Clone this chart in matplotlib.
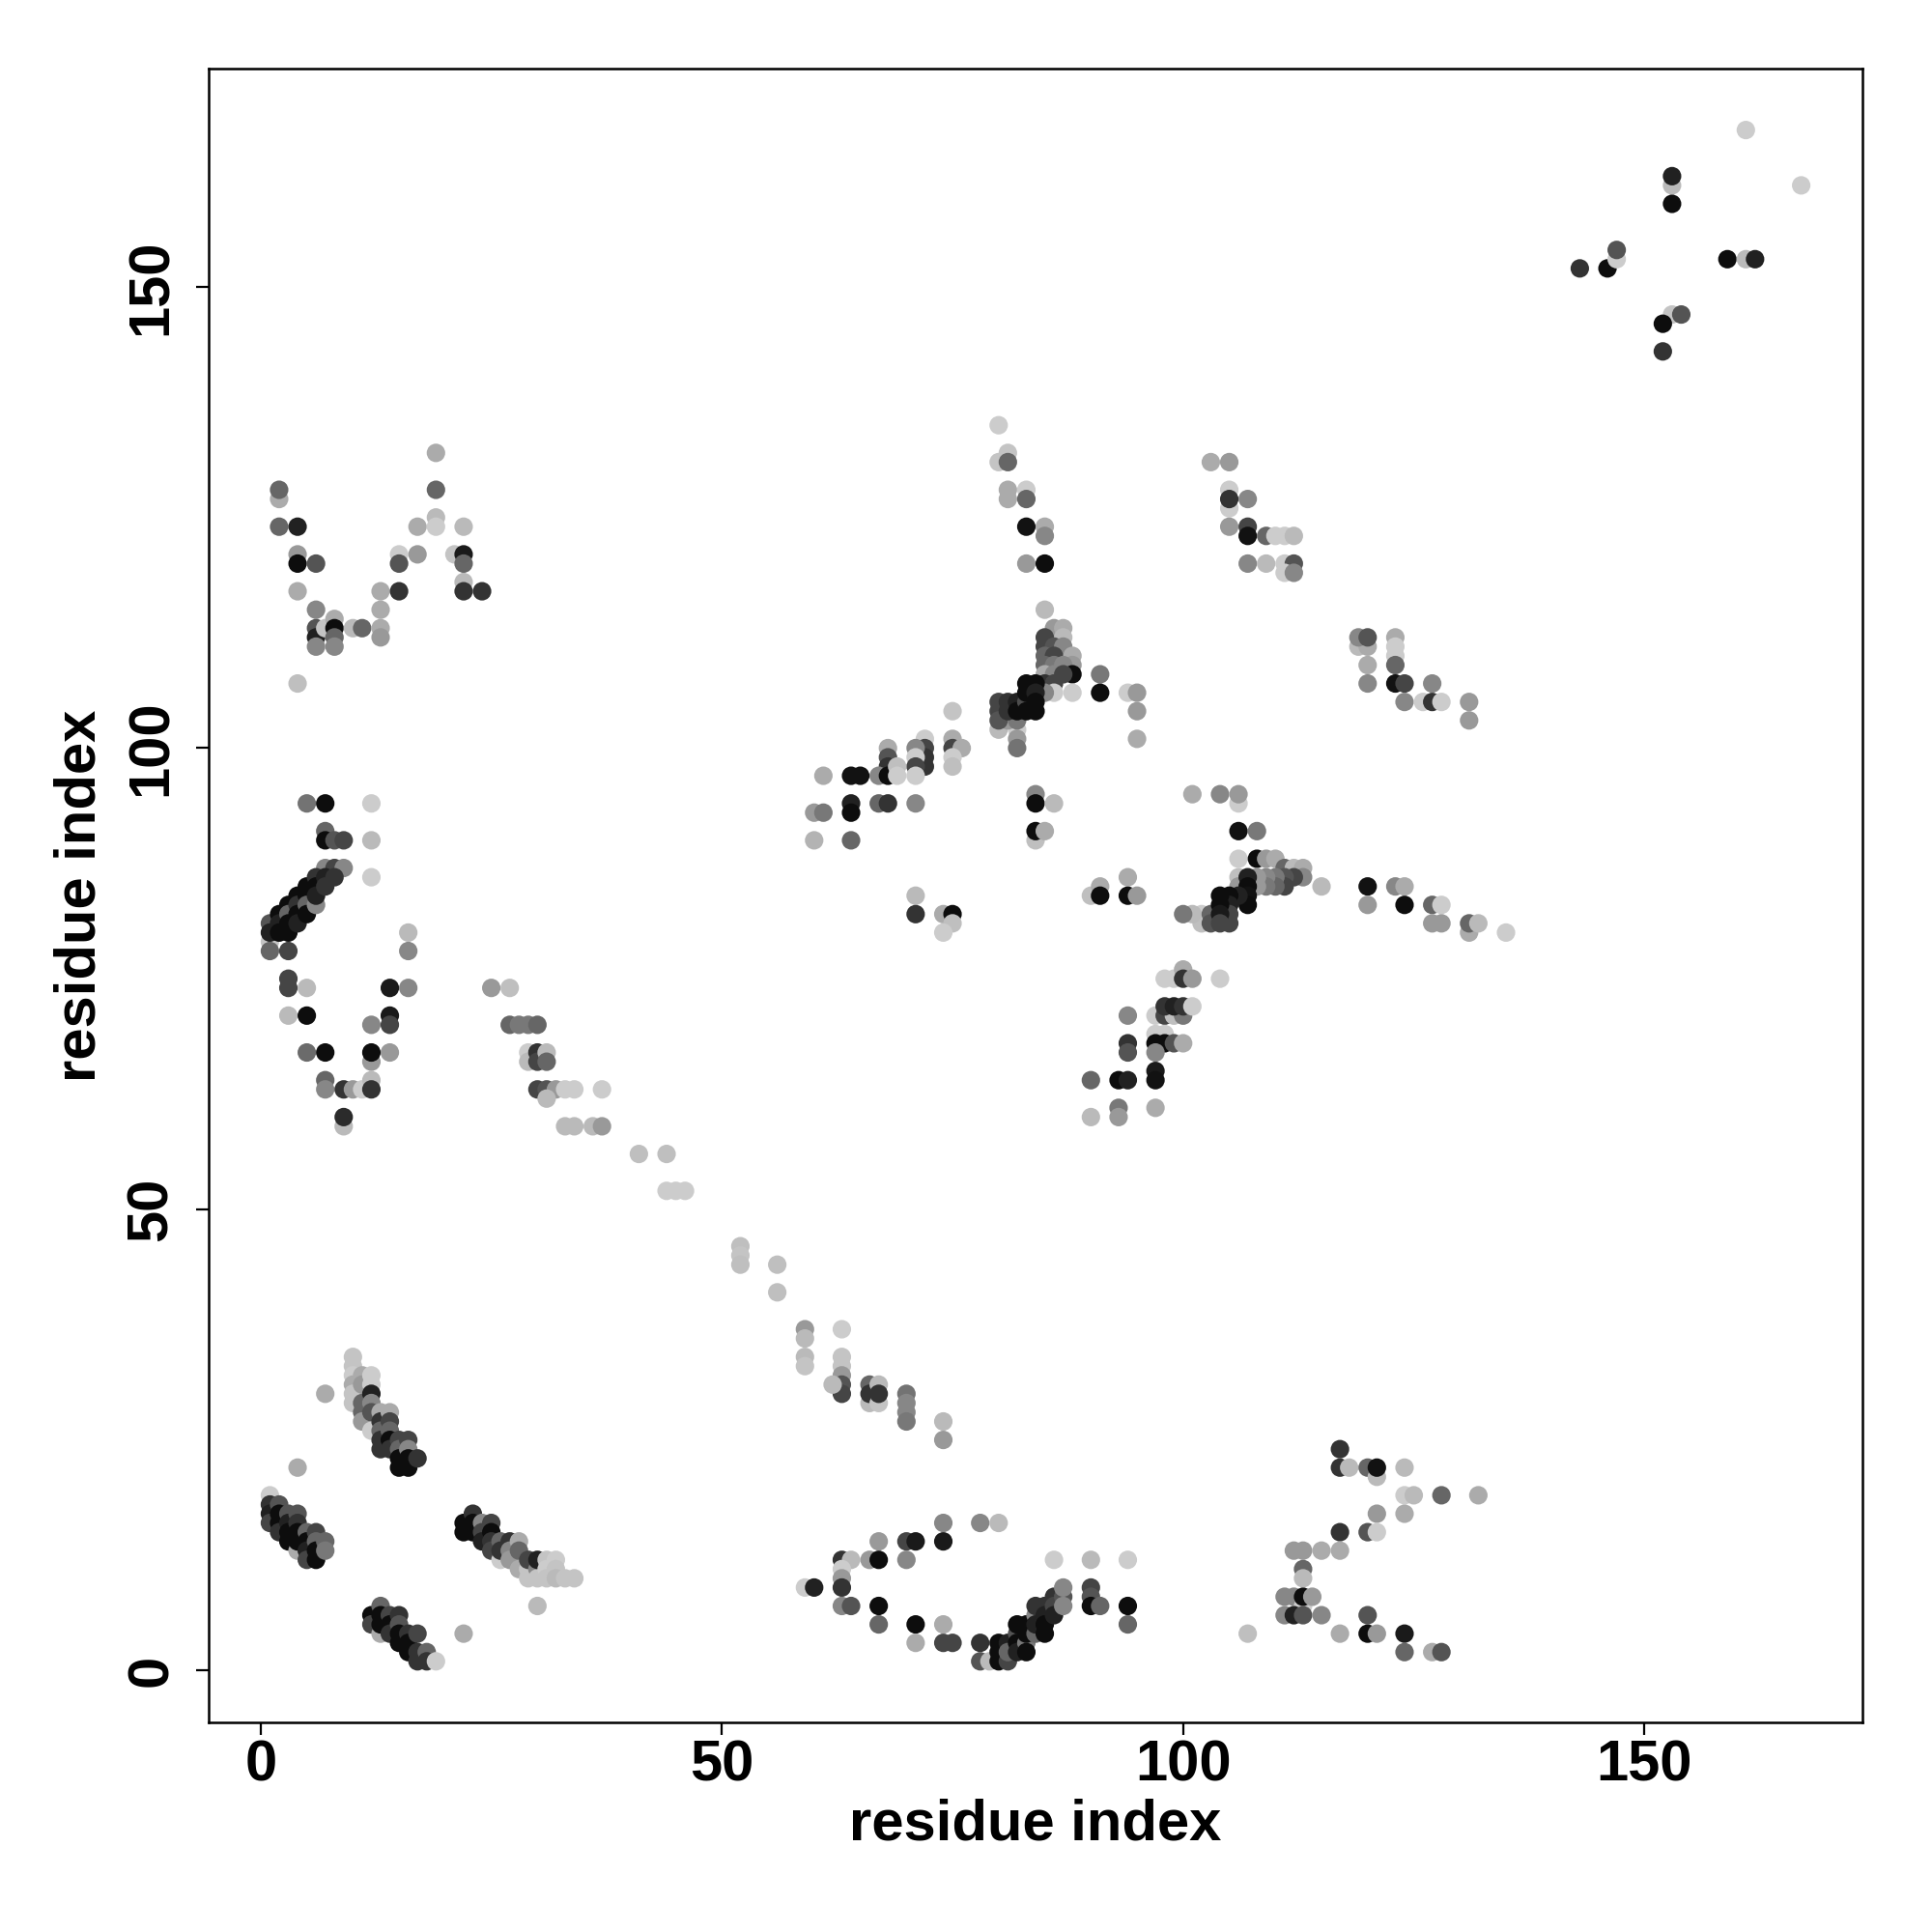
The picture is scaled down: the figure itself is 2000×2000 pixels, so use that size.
import numpy as np
import matplotlib
matplotlib.use("Agg")
import matplotlib.pyplot as plt

# contact points: (residue i, residue j, grey level 0=black .. 0.8=light)
band_low_a = [
    (7, 30, 0.67), (4, 22, 0.67),
    (10, 34, 0.77), (10, 33, 0.77), (10, 32, 0.8), (10, 31, 0.67), (10, 30, 0.77), (10, 29, 0.77),
    (11, 32, 0.67), (11, 31, 0.6), (11, 29, 0.4), (11, 28, 0.4), (11, 27, 0.6),
    (12, 32, 0.8), (12, 31, 0.8), (12, 30, 0.13), (12, 29, 0.53), (12, 28, 0.33), (12, 26, 0.8),
    (13, 28, 0.67), (13, 27, 0.2), (13, 26, 0.4), (13, 25, 0.2), (13, 24, 0.2),
    (14, 28, 0.67), (14, 27, 0.27), (14, 26, 0.4), (14, 25, 0.05), (14, 24, 0.2),
    (15, 25, 0.27), (15, 24, 0.4), (15, 23, 0.05), (15, 22, 0.05),
    (16, 25, 0.27), (16, 24, 0.53), (16, 23, 0.05), (16, 22, 0.05),
    (17, 23, 0.2),
]

band_low_b = [
    (1, 19, 0.8), (1, 18, 0.2), (1, 17, 0.13), (1, 16, 0.27),
    (2, 18, 0.33), (2, 17, 0.05), (2, 16, 0.05), (2, 15, 0.2),
    (3, 17, 0.33), (3, 16, 0.13), (3, 15, 0.05), (3, 14, 0.05),
    (4, 13, 0.67), (4, 17, 0.33), (4, 16, 0.2), (4, 15, 0.05), (4, 14, 0.05),
    (5, 15, 0.4), (5, 14, 0.05), (5, 13, 0.13), (5, 12, 0.27),
    (6, 15, 0.27), (6, 14, 0.4), (6, 13, 0.05), (6, 12, 0.05),
    (7, 14, 0.4), (7, 13, 0.47),
]

band_low_c = [
    (22, 16, 0.05), (22, 15, 0.05),
    (23, 17, 0.2), (23, 16, 0.05), (23, 15, 0.05),
    (24, 16, 0.53), (24, 15, 0.27), (24, 14, 0.13),
    (25, 16, 0.27), (25, 15, 0.05), (25, 14, 0.2), (25, 13, 0.27),
    (26, 12, 0.8), (26, 14, 0.4), (26, 13, 0.2),
    (27, 14, 0.2), (27, 13, 0.53), (27, 12, 0.6),
    (28, 14, 0.67), (28, 13, 0.4), (28, 11, 0.67),
    (29, 11, 0.77), (29, 10, 0.77), (29, 12, 0.27),
    (30, 11, 0.53), (30, 10, 0.77), (30, 12, 0.13),
    (31, 12, 0.77), (31, 11, 0.8), (31, 10, 0.77),
    (32, 12, 0.8), (32, 11, 0.77), (32, 10, 0.73),
    (33, 10, 0.77), (34, 10, 0.77),
    (30, 7, 0.73), (22, 4, 0.67),
]

band_low_d = [
    (12, 6, 0.05), (12, 5, 0.27),
    (13, 4, 0.67), (13, 7, 0.4), (13, 6, 0.05), (13, 5, 0.05),
    (14, 6, 0.27), (14, 5, 0.05), (14, 4, 0.2),
    (15, 6, 0.2), (15, 5, 0.33), (15, 4, 0.05), (15, 3, 0.05),
    (16, 4, 0.2), (16, 3, 0.05), (16, 2, 0.05),
    (17, 4, 0.27), (17, 2, 0.2), (17, 1, 0.2),
    (18, 2, 0.4), (18, 1, 0.2),
    (19, 1, 0.8),
]

left_mid = [
    (5, 94, 0.45), (7, 94, 0.05), (12, 94, 0.8),
    (7, 91, 0.4), (7, 90, 0.05), (8, 90, 0.33), (9, 90, 0.27), (12, 90, 0.73),
    (7, 87, 0.53), (8, 87, 0.27), (9, 87, 0.53), (12, 86, 0.8),
    (1, 79, 0.77), (1, 78, 0.4), (3, 78, 0.27),
    (1, 81, 0.33), (1, 80, 0.13), (2, 82, 0.05), (2, 81, 0.13), (2, 80, 0.05),
    (3, 83, 0.05), (3, 82, 0.4), (3, 81, 0.05), (3, 80, 0.05),
    (4, 84, 0.05), (4, 83, 0.2), (4, 82, 0.05), (4, 81, 0.13),
    (5, 85, 0.05), (5, 84, 0.05), (5, 83, 0.4), (5, 82, 0.05),
    (6, 83, 0.53), (6, 86, 0.2), (6, 85, 0.05), (6, 84, 0.13),
    (7, 86, 0.13), (7, 85, 0.2), (8, 86, 0.2),
    (16, 80, 0.73), (16, 78, 0.53),
    (3, 75, 0.27), (3, 74, 0.27), (5, 74, 0.73),
    (14, 74, 0.1), (16, 74, 0.53), (25, 74, 0.6), (27, 74, 0.75),
    (3, 71, 0.73), (5, 71, 0.05),
    (12, 70, 0.53), (14, 71, 0.1), (14, 70, 0.27),
    (5, 67, 0.42), (7, 67, 0.05), (12, 66, 0.6), (12, 67, 0.05), (14, 67, 0.6),
    (7, 64, 0.4), (7, 63, 0.53), (9, 63, 0.2), (10, 63, 0.6), (11, 63, 0.8),
    (12, 64, 0.73), (12, 63, 0.2),
    (9, 59, 0.73), (9, 60, 0.17),
]

left_top = [
    (2, 127, 0.67), (2, 128, 0.4), (2, 124, 0.4), (4, 124, 0.13),
    (4, 121, 0.6), (4, 120, 0.05), (6, 120, 0.33), (4, 117, 0.67),
    (6, 115, 0.53), (6, 113, 0.33), (6, 112, 0.13), (6, 111, 0.53), (7, 113, 0.77),
    (8, 114, 0.67), (8, 113, 0.05), (8, 112, 0.4), (8, 111, 0.53),
    (10, 113, 0.73), (11, 113, 0.4),
    (13, 117, 0.67), (13, 115, 0.67), (13, 113, 0.67), (13, 112, 0.6),
    (15, 121, 0.8), (15, 120, 0.33), (15, 117, 0.2),
    (17, 124, 0.67), (17, 121, 0.6),
    (19, 132, 0.67), (19, 128, 0.4), (19, 125, 0.73), (19, 124, 0.8),
    (21, 121, 0.77), (22, 121, 0.1), (22, 120, 0.4), (22, 118, 0.73), (22, 117, 0.2),
    (24, 117, 0.2), (22, 124, 0.73),
    (4, 107, 0.75),
]

diagonal = [
    (27, 70, 0.4), (28, 70, 0.47), (29, 70, 0.47), (30, 70, 0.4),
    (29, 67, 0.8), (29, 66, 0.73), (30, 67, 0.2), (30, 66, 0.27), (31, 67, 0.73), (31, 66, 0.4),
    (30, 63, 0.27), (31, 63, 0.33), (32, 63, 0.6), (33, 63, 0.8), (34, 63, 0.8), (37, 63, 0.8),
    (31, 62, 0.73),
    (33, 59, 0.73), (34, 59, 0.73), (36, 59, 0.73), (37, 59, 0.6),
    (41, 56, 0.75), (44, 56, 0.75),
    (44, 52, 0.8), (45, 52, 0.8), (46, 52, 0.8),
    (52, 46, 0.75), (52, 45, 0.77), (52, 44, 0.75),
    (56, 44, 0.75), (56, 41, 0.75),
    (59, 37, 0.6), (59, 36, 0.73), (59, 34, 0.73), (59, 33, 0.77),
    (63, 37, 0.8), (63, 34, 0.77), (63, 33, 0.77), (63, 32, 0.6), (63, 31, 0.33), (63, 30, 0.27),
    (62, 31, 0.73),
    (66, 29, 0.73), (66, 31, 0.4), (66, 30, 0.2),
    (67, 31, 0.73), (67, 29, 0.77), (67, 30, 0.2),
    (70, 30, 0.45), (70, 29, 0.53), (70, 28, 0.53), (70, 27, 0.47),
    (74, 27, 0.73), (74, 25, 0.6),
]

center_low = [
    (74, 16, 0.53), (78, 16, 0.53), (80, 16, 0.73),
    (67, 14, 0.6), (70, 14, 0.27), (71, 14, 0.1), (74, 14, 0.1),
    (63, 12, 0.2), (64, 12, 0.73), (66, 12, 0.6), (67, 12, 0.05), (70, 12, 0.53),
    (63, 11, 0.8), (63, 10, 0.6), (63, 9, 0.2),
    (59, 9, 0.8), (60, 9, 0.13),
    (63, 7, 0.53), (64, 7, 0.33), (67, 7, 0.05),
    (67, 5, 0.4), (71, 5, 0.05), (74, 5, 0.67),
    (71, 3, 0.67), (74, 3, 0.27), (75, 3, 0.27),
    (78, 3, 0.2), (78, 1, 0.33), (79, 1, 0.73),
    (80, 3, 0.05), (80, 2, 0.05), (80, 1, 0.05), (81, 1, 0.27), (81, 3, 0.13), (81, 2, 0.4),
    (82, 4, 0.33), (82, 5, 0.05), (82, 3, 0.05), (82, 2, 0.13),
    (83, 3, 0.47), (83, 5, 0.05), (83, 4, 0.05), (83, 2, 0.05),
    (84, 6, 0.53), (84, 4, 0.4), (84, 7, 0.2), (84, 5, 0.13),
    (85, 7, 0.2), (85, 6, 0.13), (85, 5, 0.05), (85, 4, 0.05),
    (86, 8, 0.2), (86, 7, 0.27), (86, 6, 0.13),
    (87, 8, 0.33), (87, 9, 0.53), (87, 7, 0.53),
    (86, 12, 0.8), (90, 12, 0.73), (94, 12, 0.8),
    (90, 9, 0.27), (90, 8, 0.33), (90, 7, 0.05), (91, 7, 0.4),
    (94, 7, 0.05), (94, 5, 0.4),
]

right_low = [
    (117, 24, 0.2), (117, 22, 0.2), (118, 22, 0.73), (120, 22, 0.4),
    (121, 21, 0.73), (121, 22, 0.07), (124, 22, 0.73),
    (124, 19, 0.8), (125, 19, 0.73), (128, 19, 0.4), (132, 19, 0.67),
    (121, 17, 0.6), (124, 17, 0.67),
    (117, 15, 0.2), (120, 15, 0.33), (121, 15, 0.8),
    (112, 13, 0.6), (113, 13, 0.6), (115, 13, 0.67), (117, 13, 0.67),
    (113, 11, 0.4), (113, 10, 0.73),
    (111, 8, 0.53), (112, 8, 0.53), (113, 7, 0.8), (113, 8, 0.05), (114, 8, 0.6),
    (111, 6, 0.53), (112, 6, 0.13), (113, 6, 0.33), (115, 6, 0.53),
    (107, 4, 0.75), (117, 4, 0.67),
    (120, 6, 0.33), (120, 4, 0.05), (121, 4, 0.6), (124, 4, 0.1),
    (124, 2, 0.4), (127, 2, 0.67), (128, 2, 0.33),
]

center_mid = [
    (85, 115, 0.73),
    (86, 113, 0.6), (87, 113, 0.67), (87, 112, 0.73), (85, 112, 0.27), (85, 111, 0.27),
    (86, 111, 0.33), (87, 111, 0.53), (85, 110, 0.4), (86, 110, 0.27), (88, 110, 0.67),
    (88, 109, 0.6), (85, 109, 0.4), (86, 109, 0.47), (87, 109, 0.53), (88, 108, 0.05),
    (85, 108, 0.67), (86, 108, 0.53), (87, 108, 0.27), (85, 107, 0.2), (86, 107, 0.27),
    (88, 106, 0.8), (86, 106, 0.8), (85, 106, 0.53),
    (91, 108, 0.47), (91, 106, 0.05),
    (94, 106, 0.8), (95, 106, 0.6), (95, 104, 0.6), (95, 101, 0.67),
    (80, 102, 0.73), (82, 102, 0.8), (82, 101, 0.6), (82, 100, 0.45), (81, 103, 0.6),
    (80, 105, 0.27), (80, 104, 0.27), (80, 103, 0.33), (82, 103, 0.47),
    (81, 105, 0.2), (81, 104, 0.2), (82, 105, 0.13), (82, 104, 0.05), (83, 105, 0.3),
    (83, 107, 0.05), (84, 107, 0.05), (83, 106, 0.05), (84, 106, 0.13),
    (84, 105, 0.05), (84, 104, 0.05), (83, 104, 0.05),
    (75, 104, 0.77),
    (72, 101, 0.8), (72, 100, 0.27), (72, 99, 0.2), (72, 98, 0.2),
    (71, 100, 0.53), (71, 99, 0.8), (71, 98, 0.27), (71, 97, 0.8),
    (75, 101, 0.67), (75, 100, 0.27), (76, 100, 0.67), (75, 99, 0.8), (75, 98, 0.75),
    (68, 100, 0.67), (68, 99, 0.33), (68, 98, 0.2), (67, 97, 0.53), (68, 97, 0.05),
    (69, 98, 0.75), (69, 97, 0.8),
    (61, 97, 0.67), (64, 97, 0.07), (65, 97, 0.07),
    (64, 94, 0.13), (64, 93, 0.05), (64, 90, 0.4),
    (67, 94, 0.4), (68, 94, 0.2), (71, 94, 0.53),
    (60, 93, 0.6), (61, 93, 0.47), (60, 90, 0.7),
    (84, 95, 0.53), (84, 94, 0.05), (86, 94, 0.73), (84, 90, 0.75), (84, 91, 0.05), (85, 91, 0.67),
    (71, 84, 0.73), (71, 82, 0.2),
    (74, 82, 0.67), (75, 82, 0.05), (75, 81, 0.75), (74, 80, 0.8),
    (90, 84, 0.75), (91, 85, 0.67), (91, 84, 0.05),
    (94, 86, 0.67), (94, 84, 0.05), (95, 84, 0.6),
]

center_right = [
    (101, 95, 0.67), (104, 95, 0.53), (106, 94, 0.8), (106, 95, 0.6),
    (106, 91, 0.07), (108, 91, 0.47),
    (106, 88, 0.8), (108, 88, 0.05), (109, 88, 0.6), (110, 88, 0.67),
    (111, 87, 0.4), (112, 87, 0.73), (113, 87, 0.67), (113, 86, 0.53), (112, 86, 0.27),
    (111, 86, 0.33), (111, 85, 0.27), (110, 86, 0.47), (110, 85, 0.4),
    (109, 86, 0.53), (109, 85, 0.47), (108, 86, 0.6), (108, 85, 0.6),
    (106, 86, 0.75), (106, 85, 0.6), (107, 86, 0.13), (107, 85, 0.05), (107, 84, 0.07), (107, 83, 0.05),
    (102, 82, 0.8), (102, 81, 0.75), (101, 82, 0.73), (100, 82, 0.47),
    (103, 82, 0.4), (103, 81, 0.33),
    (106, 84, 0.13), (105, 84, 0.05), (105, 83, 0.13), (105, 82, 0.27), (105, 81, 0.27),
    (104, 84, 0.05), (104, 83, 0.05), (104, 82, 0.1), (104, 81, 0.27),
    (115, 85, 0.73),
    (120, 85, 0.07), (120, 83, 0.6),
    (123, 85, 0.53), (124, 85, 0.67), (124, 83, 0.05),
    (127, 83, 0.4), (128, 83, 0.8), (127, 81, 0.6), (128, 81, 0.6),
    (131, 80, 0.67), (131, 81, 0.4), (132, 81, 0.73), (135, 80, 0.8),
    (98, 75, 0.8), (99, 75, 0.8), (100, 76, 0.67), (100, 75, 0.2), (101, 75, 0.6), (104, 75, 0.8),
    (97, 71, 0.8), (98, 71, 0.27), (99, 71, 0.75), (100, 71, 0.47),
    (98, 72, 0.2), (99, 72, 0.13), (100, 72, 0.2), (101, 72, 0.8),
    (94, 71, 0.53),
    (97, 69, 0.8), (98, 69, 0.8), (97, 68, 0.05), (98, 68, 0.05), (99, 68, 0.33), (100, 68, 0.67),
    (94, 68, 0.2), (94, 67, 0.33), (97, 67, 0.53),
    (97, 65, 0.1), (97, 64, 0.07),
    (90, 64, 0.4), (93, 64, 0.05), (94, 64, 0.13),
    (93, 61, 0.47), (93, 60, 0.6), (90, 60, 0.73), (97, 61, 0.67),
]

top_center = [
    (80, 135, 0.8),
    (80, 131, 0.77), (81, 132, 0.77), (81, 131, 0.4),
    (81, 128, 0.67), (81, 127, 0.67), (83, 128, 0.8), (83, 127, 0.4),
    (83, 124, 0.07), (85, 124, 0.67), (85, 123, 0.53),
    (83, 120, 0.6), (85, 120, 0.05),
    (103, 131, 0.67), (105, 131, 0.6),
    (105, 128, 0.8), (105, 126, 0.8), (105, 127, 0.2), (107, 127, 0.53),
    (105, 124, 0.6), (107, 124, 0.27), (107, 123, 0.07), (109, 123, 0.4),
    (110, 123, 0.8), (111, 123, 0.8), (112, 123, 0.73),
    (107, 120, 0.53), (109, 120, 0.73), (111, 120, 0.8), (112, 120, 0.33),
    (111, 119, 0.8), (112, 119, 0.53),
    (119, 111, 0.73), (120, 111, 0.67), (119, 112, 0.53), (120, 112, 0.33),
    (120, 109, 0.67), (120, 107, 0.53),
    (123, 112, 0.67), (123, 111, 0.8), (123, 110, 0.8), (123, 109, 0.4),
    (123, 107, 0.07), (124, 107, 0.27),
    (127, 107, 0.53), (124, 105, 0.53), (126, 105, 0.8), (127, 105, 0.2), (128, 105, 0.8),
    (131, 105, 0.6), (131, 103, 0.6),
]

top_right = [
    (161, 167, 0.8), (167, 161, 0.8),
    (153, 161, 0.73), (153, 162, 0.13), (153, 159, 0.05),
    (143, 152, 0.2), (146, 152, 0.05), (147, 153, 0.8), (147, 154, 0.33),
    (159, 153, 0.05), (161, 153, 0.73), (162, 153, 0.13),
    (153, 147, 0.77), (154, 147, 0.33), (152, 146, 0.05), (152, 143, 0.2),
]

tick_vals = [0, 50, 100, 150]
axis_label = "residue index"

pts = np.array(band_low_a + band_low_b + band_low_c + band_low_d + left_mid + left_top
               + diagonal + center_low + right_low + center_mid + center_right
               + top_center + top_right)
res_i = pts[:, 0]
res_j = pts[:, 1]
cols = [str(g) for g in pts[:, 2]]

plt.rcParams['font.family'] = ['Liberation Sans', 'DejaVu Sans']
plt.rcParams['font.weight'] = 'bold'

fig = plt.figure(figsize=(20, 20), dpi=100)
ax = fig.add_axes([0.108, 0.1084, 0.856, 0.856])

ax.scatter(res_i, res_j, s=190, c=cols, edgecolors='none')

# R style 4% padding on range 1..167
lo, hi = 1, 167
pad = (hi - lo) * 0.04
ax.set_xlim(lo - pad, hi + pad)
ax.set_ylim(lo - pad, hi + pad)

ax.set_xticks(tick_vals)
ax.set_yticks(tick_vals)
ax.tick_params(direction='out', length=9.5, width=1.6, labelsize=43)
ax.tick_params(axis='x', pad=3)
ax.tick_params(axis='y', pad=13)
for lab in ax.get_xticklabels() + ax.get_yticklabels():
    lab.set_fontweight('bold')
plt.setp(ax.get_yticklabels(), rotation=90, va='center')

for sp in ax.spines.values():
    sp.set_linewidth(1.8)

ax.set_xlabel(axis_label, fontsize=43, fontweight='bold', labelpad=4)
ax.set_ylabel(axis_label, fontsize=43, fontweight='bold', labelpad=14)

fig.savefig("out.png", dpi=100, facecolor='white')
